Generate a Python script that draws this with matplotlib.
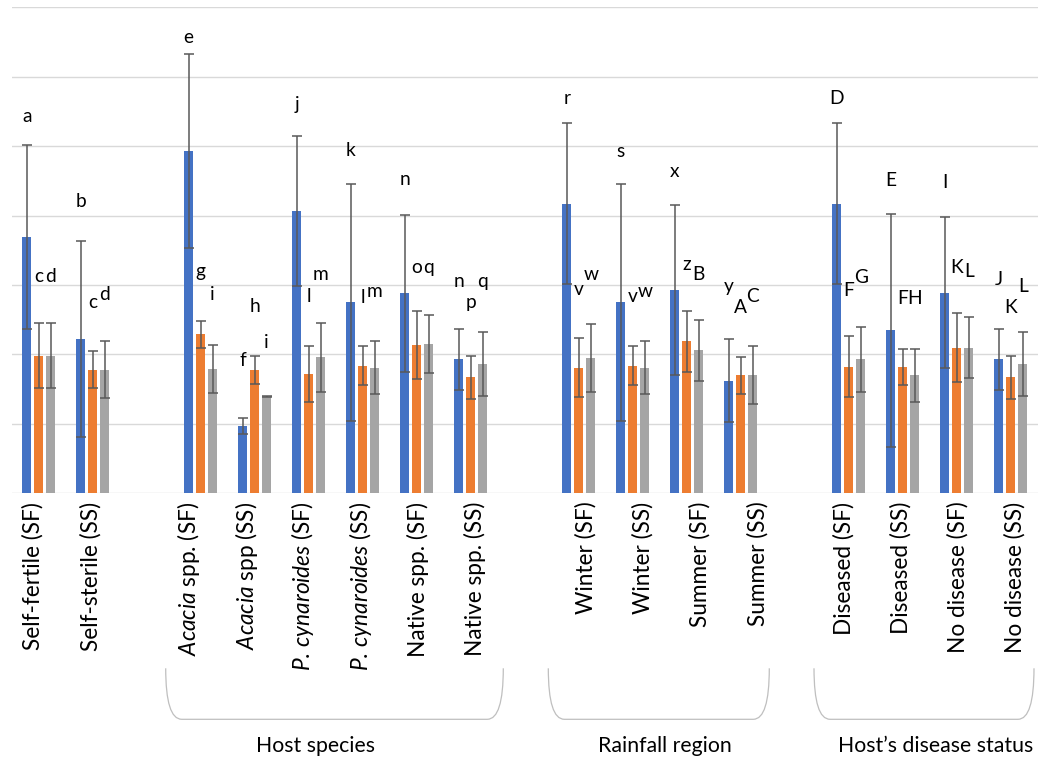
import matplotlib
matplotlib.use("Agg")
import matplotlib.pyplot as plt
from matplotlib.path import Path
from matplotlib.patches import PathPatch
import numpy as np

plt.rcParams['font.family'] = ['Lato', 'DejaVu Sans']
plt.rcParams['mathtext.fontset'] = 'custom'
plt.rcParams['mathtext.rm'] = 'Lato'
plt.rcParams['mathtext.it'] = 'Lato:italic'

# posiciones de categoria (hay huecos entre grupos)
cats = [0, 1, 3, 4, 5, 6, 7, 8, 10, 11, 12, 13, 15, 16, 17, 18]
labels = ['Self-fertile (SF)', 'Self-sterile (SS)',
          r'$\mathit{Acacia}$ spp. (SF)', r'$\mathit{Acacia}$ spp (SS)',
          r'$\mathit{P.\,cynaroides}$ (SF)', r'$\mathit{P.\,cynaroides}$ (SS)',
          'Native spp. (SF)', 'Native spp. (SS)',
          'Winter (SF)', 'Winter (SS)', 'Summer (SF)', 'Summer (SS)',
          'Diseased (SF)', 'Diseased (SS)', 'No disease (SF)', 'No disease (SS)']

blue = [3.69, 2.22, 4.93, 0.97, 4.07, 2.75, 2.88, 1.93, 4.17, 2.75, 2.93, 1.62, 4.17, 2.35, 2.89, 1.93]
blue_err = [1.32, 1.41, 1.40, 0.11, 1.08, 1.71, 1.13, 0.44, 1.16, 1.71, 1.22, 0.60, 1.16, 1.68, 1.09, 0.44]
orange = [1.98, 1.78, 2.29, 1.78, 1.72, 1.84, 2.13, 1.67, 1.81, 1.84, 2.19, 1.70, 1.82, 1.82, 2.10, 1.67]
orange_err = [0.47, 0.27, 0.19, 0.20, 0.40, 0.28, 0.49, 0.31, 0.42, 0.28, 0.44, 0.27, 0.44, 0.26, 0.49, 0.31]
gray = [1.98, 1.78, 1.79, 1.39, 1.96, 1.81, 2.15, 1.86, 1.95, 1.81, 2.06, 1.70, 1.93, 1.70, 2.10, 1.86]
gray_err = [0.47, 0.41, 0.35, 0.01, 0.50, 0.38, 0.42, 0.46, 0.49, 0.38, 0.44, 0.42, 0.47, 0.38, 0.44, 0.46]

# letras de significancia y su altura
blue_let = ['a', 'b', 'e', 'f', 'j', 'k', 'n', 'n', 'r', 's', 'x', 'y', 'D', 'E', 'I', 'J']
blue_let_y = [5.35, 4.12, 6.48, 1.83, 5.52, 4.86, 4.44, 2.97, 5.61, 4.85, 4.55, 2.90, 5.61, 4.43, 4.40, 3.00]
orange_let = ['c', 'c', 'g', 'h', 'l', 'l', 'o', 'p', 'v', 'v', 'z', 'A', 'F', 'F', 'K', 'K']
orange_let_y = [3.05, 2.67, 3.12, 2.61, 2.75, 2.74, 3.18, 2.67, 2.86, 2.75, 3.21, 2.59, 2.84, 2.72, 3.18, 2.59]
gray_let = ['d', 'd', 'i', 'i', 'm', 'm', 'q', 'q', 'w', 'w', 'B', 'C', 'G', 'H', 'L', 'L']
gray_let_y = [3.05, 2.78, 2.78, 2.10, 3.07, 2.83, 3.18, 2.97, 3.07, 2.83, 3.07, 2.75, 3.03, 2.72, 3.11, 2.90]

# posicion de las etiquetas del eje x (no coinciden exactamente con las barras)
label_pos = [-0.10, 0.956, 2.783, 3.839, 4.885, 5.959, 7.024, 8.085,
             10.131, 11.19, 12.246, 13.311, 14.913, 15.965, 17.024, 18.08]

W, H = 1039, 759
fig = plt.figure(figsize=(W / 100, H / 100), dpi=100)
ax = fig.add_axes([11.7 / W, 1 - 493.3 / H, 1026 / W, 486 / H])

x = np.array(cats, dtype=float)
off = 0.222
bw = 0.172
series = [(blue, blue_err, '#4472C4', blue_let, blue_let_y, -off),
          (orange, orange_err, '#ED7D31', orange_let, orange_let_y, 0),
          (gray, gray_err, '#A5A5A5', gray_let, gray_let_y, off)]

for vals, err, col, lets, lets_y, dx in series:
    ax.bar(x + dx, vals, width=bw, color=col, zorder=2)
    ax.errorbar(x + dx, vals, yerr=err, fmt='none', ecolor='#595959',
                elinewidth=1.1, capsize=3.6, capthick=1.1, zorder=3)
    for xi, t, ty in zip(x + dx, lets, lets_y):
        ax.text(xi, ty, t, ha='center', va='baseline', fontsize=13.8, color='black')

ax.set_xlim(-0.5, 18.5)
ax.set_ylim(0, 7)
ax.set_yticks(range(8))
ax.yaxis.grid(True, color='#d9d9d9', linewidth=1)
ax.set_axisbelow(True)
ax.tick_params(axis='y', length=0, labelleft=False)
ax.tick_params(axis='x', length=0, pad=6)
ax.set_xticks(label_pos, labels, rotation=90, fontsize=16.3)
for s in ax.spines.values():
    s.set_visible(False)


# llaves de agrupacion debajo de las etiquetas
def px(xp, yp):
    return (xp / W, 1 - yp / H)


def llave(x0, x1, titulo, xt):
    yt, yb, r = 668.3, 719.3, 16
    verts = [px(x0, yt), px(x0, yb), px(x0 + r, yb),
             px(x1 - r, yb),
             px(x1, yb), px(x1, yt)]
    codes = [Path.MOVETO, Path.CURVE3, Path.CURVE3, Path.LINETO, Path.CURVE3, Path.CURVE3]
    fig.patches.append(PathPatch(Path(verts, codes), transform=fig.transFigure,
                                 fill=False, edgecolor='#bfbfbf', linewidth=0.9))
    fig.text(xt / W, 1 - 751.5 / H, titulo, ha='center', va='baseline', fontsize=15.3)


llave(165.7, 503.3, 'Host species', 315)
llave(548.3, 769.3, 'Rainfall region', 665)
llave(814, 1034, 'Host\u2019s disease status', 935.3)

fig.savefig('out.png', dpi=100)
